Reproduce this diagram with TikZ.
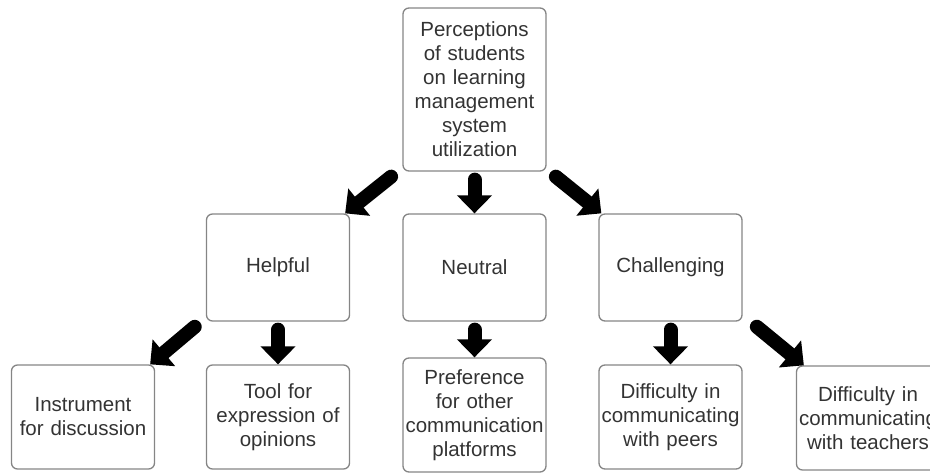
\documentclass[tikz,border=0pt]{standalone}
\usepackage{fontspec}
\setmainfont{Liberation Sans}
\usetikzlibrary{arrows.meta}
\definecolor{boxline}{HTML}{858585}
\definecolor{boxtext}{HTML}{333333}
\begin{document}
\begin{tikzpicture}[x=1pt, y=-1pt,
    box/.style={draw=boxline, line width=1.3pt, rounded corners=6pt, text=boxtext, align=center,
      text width=140pt, inner sep=1pt, minimum width=143pt, font=\fontsize{20.5}{24}\selectfont},
    fat/.style={line width=14pt, line cap=round, shorten <=8pt, -{Triangle[width=34pt, length=18pt]}}]
  \useasboundingbox (0,0) rectangle (930,474);
  \node[box, minimum height=163pt] (top) at (474.5,89.5) {Perceptions\\of students\\on learning\\management\\system\\utilization};
  \node[box, minimum height=107pt] (helpful) at (278,267.5) {Helpful};
  \node[box, minimum height=107pt] (neutral) at (474.5,267.5) {Neutral};
  \node[box, minimum height=107pt] (challenging) at (670.5,267.5) {Challenging};
  \node[box, minimum height=104pt] (instrument) at (83,417) {Instrument\\for discussion};
  \node[box, minimum height=104pt] (tool) at (278,417) {Tool for\\expression of\\opinions};
  \node[box, minimum height=114pt] (preference) at (474.5,415) {Preference\\for other\\communication\\platforms};
  \node[box, minimum height=104pt] (peers) at (670.5,417) {Difficulty in\\communicating\\with peers};
  \node[box, minimum height=104pt] (teachers) at (868,418) {Difficulty in\\communicating\\with teachers};
  \draw[fat] ([xshift=-5pt]top.south west) -- ([xshift=-5pt]helpful.north east);
  \draw[fat] (top.south) -- (neutral.north);
  \draw[fat] ([xshift=3pt]top.south east) -- ([xshift=3pt]challenging.north west);
  \draw[fat] ([xshift=-5pt]helpful.south west) -- ([xshift=-5pt]instrument.north east);
  \draw[fat] (helpful.south) -- (tool.north);
  \draw[fat] (neutral.south) -- (preference.north);
  \draw[fat] (challenging.south) -- (peers.north);
  \draw[fat] ([xshift=8pt]challenging.south east) -- ([xshift=8pt]teachers.north west);
\end{tikzpicture}
\end{document}
